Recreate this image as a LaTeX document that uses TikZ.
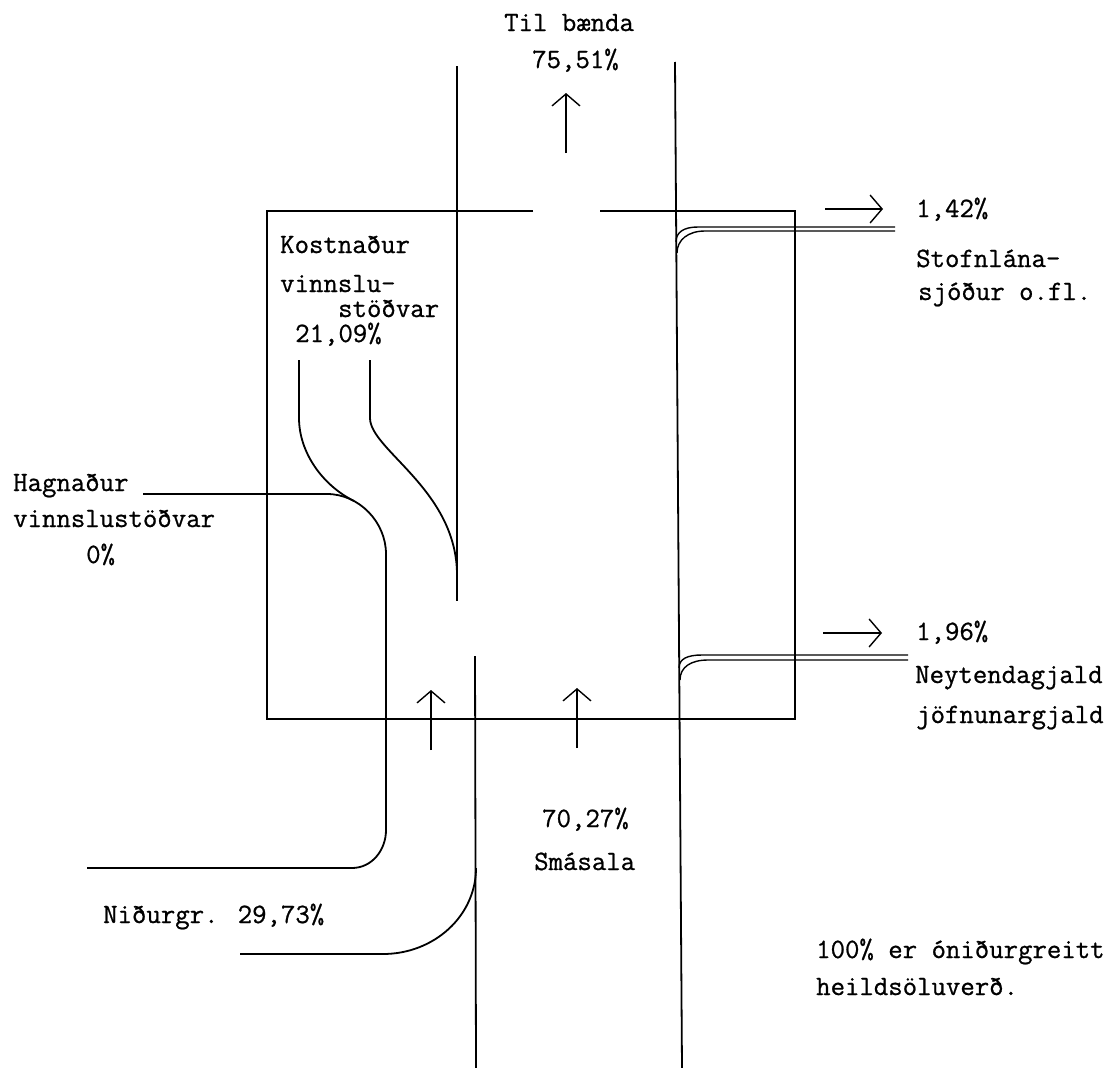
\documentclass[tikz,border=0pt]{standalone}
\usepackage{fontspec}
\newfontfamily\typew[FakeBold=0.8]{Latin Modern Mono}
\usetikzlibrary{arrows.meta}
\begin{document}
\begin{tikzpicture}[x=1pt,y=-1pt,
  wall/.style={line width=1.8pt},
  pipe/.style={line width=1.4pt},
  flow/.style={line width=1.4pt,-{Straight Barb[length=12pt,width=28pt]}},
  lbl/.style={anchor=base west,inner sep=0pt,font=\typew\fontsize{28}{30}\selectfont}]
\useasboundingbox (0,0) rectangle (1117,1068);

% ---- key points ----
\coordinate (ULtop) at (457,66);
\coordinate (ULbot) at (457,601);
\coordinate (Rtop)  at (675,62);
\coordinate (Rbot)  at (682,1068);
\coordinate (LLtop) at (475,656);
\coordinate (LLbot) at (476,1068);
% box
\coordinate (BoxGapL) at (533,211);
\coordinate (BoxTL) at (267,211);
\coordinate (BoxBL) at (267,719);
\coordinate (BoxBR) at (795,719);
\coordinate (BoxTR) at (795,211);
\coordinate (BoxGapR) at (600,211);

% ---- channel walls ----
\draw[wall] (ULtop) -- (ULbot);
\draw[wall] (Rtop) -- (Rbot);
\draw[wall] (LLtop) -- (LLbot);

% ---- box ----
\draw[wall] (BoxGapL) -- (BoxTL) -- (BoxBL) -- (BoxBR) -- (BoxTR) -- (BoxGapR);

% ---- double lines to the right ----
\coordinate (sA0) at (676,242); \coordinate (sA1) at (698,227); \coordinate (sA2) at (895,227);
\coordinate (sB0) at (677,253); \coordinate (sB1) at (705,231); \coordinate (sB2) at (895,231);
\draw[pipe] (sA0) .. controls (676,232) and (684,227) .. (sA1) -- (sA2);
\draw[pipe] (sB0) .. controls (677,240) and (688,231) .. (sB1) -- (sB2);
\coordinate (nA0) at (679,668); \coordinate (nA1) at (702,655); \coordinate (nA2) at (908,655);
\coordinate (nB0) at (680,680); \coordinate (nB1) at (708,660); \coordinate (nB2) at (908,660);
\draw[pipe] (nA0) .. controls (679,659) and (687,655) .. (nA1) -- (nA2);
\draw[pipe] (nB0) .. controls (680,667) and (691,660) .. (nB1) -- (nB2);

% ---- Hagnadur line ----
\coordinate (H0) at (143,494);
\coordinate (H1) at (327,494);
\coordinate (H2) at (386,554);
\coordinate (H3) at (386,830);
\coordinate (H4) at (352,868);
\coordinate (H5) at (87,868);
\draw[wall] (H0) -- (H1) .. controls (359,494) and (386,522) .. (H2) -- (H3)
  .. controls (386,850) and (372,868) .. (H4) -- (H5);

% ---- Kostnadur lines ----
\coordinate (K1a) at (299,360); \coordinate (K1b) at (299,418); \coordinate (K1c) at (354,501);
\draw[wall] (K1a) -- (K1b) .. controls (299,452) and (322,485) .. (K1c);
\coordinate (K2a) at (370,360); \coordinate (K2b) at (370,418); \coordinate (K2c) at (457,575);
\draw[wall] (K2a) -- (K2b) .. controls (370,450) and (457,490) .. (K2c);

% ---- Nidurgr line ----
\coordinate (N0) at (240,954); \coordinate (N1) at (383,954); \coordinate (N2) at (476,868);
\draw[wall] (N0) -- (N1) .. controls (434,954) and (476,916) .. (N2);

% ---- arrows ----
\coordinate (aT0) at (566,153); \coordinate (aT1) at (566,93);
\coordinate (aL0) at (431,750); \coordinate (aL1) at (431,690);
\coordinate (aM0) at (577,748); \coordinate (aM1) at (577,688);
\coordinate (aS0) at (825,209); \coordinate (aS1) at (883,209);
\coordinate (aN0) at (823,633); \coordinate (aN1) at (882,633);
\draw[flow] (aT0) -- (aT1);
\draw[flow] (aL0) -- (aL1);
\draw[flow] (aM0) -- (aM1);
\draw[flow] (aS0) -- (aS1);
\draw[flow] (aN0) -- (aN1);

% ---- labels ----
\node[lbl] (tilb) at (504,31) {Til bænda};
\node[lbl] (p7551) at (532,68) {75,51\%};
\node[lbl] (p142) at (916,217) {1,42\%};
\node[lbl] (stofn1) at (916,267) {Stofnlána-};
\node[lbl] (stofn2) at (918,300) {sjóður o.fl.};
\node[lbl] (kost1) at (280,253) {Kostnaður};
\node[lbl] (kost2) at (280,292) {vinnslu-};
\node[lbl] (kost3) at (338,317) {stöðvar};
\node[lbl] (kost4) at (295,342) {21,09\%};
\node[lbl] (hagn1) at (13,491) {Hagnaður};
\node[lbl] (hagn2) at (13,527) {vinnslustöðvar};
\node[lbl] (hagn3) at (86,563) {0\%};
\node[lbl] (nidur) at (103,923) {Niðurgr. 29,73\%};
\node[lbl] (p7027) at (542,827) {70,27\%};
\node[lbl] (smas) at (534,870) {Smásala};
\node[lbl] (p196) at (916,640) {1,96\%};
\node[lbl] (neyt1) at (915,683) {Neytendagjald};
\node[lbl] (neyt2) at (916,723) {jöfnunargjald};
\node[lbl] (note1) at (816,958) {100\% er óniðurgreitt};
\node[lbl] (note2) at (816,995) {heildsöluverð.};
\end{tikzpicture}
\end{document}
